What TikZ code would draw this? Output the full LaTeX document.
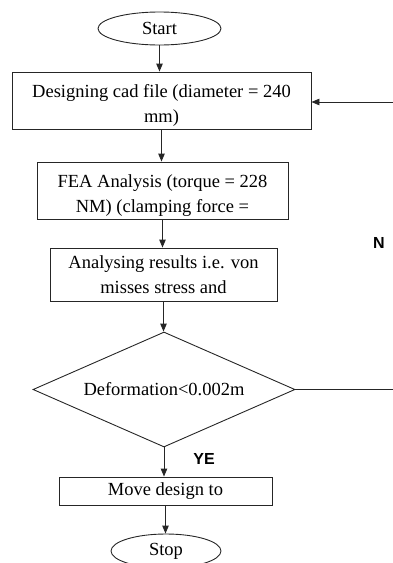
\documentclass[tikz,border=0pt]{standalone}
\usepackage{fontspec}
\setmainfont{Liberation Serif}
\newfontfamily\labfont{Liberation Sans}
\usetikzlibrary{shapes.geometric,arrows.meta}
\begin{document}
\begin{tikzpicture}[x=1pt,y=-1pt,
  line width=0.9pt,
  txt/.style={font=\fontsize{18.5}{25}\selectfont,align=center,text=black},
  box/.style={txt,draw=black!85,rectangle,inner sep=0pt},
  term/.style={txt,draw=black!85,ellipse,inner sep=0pt},
  decide/.style={txt,draw=black!85,diamond,inner sep=0pt,aspect=2},
  lab/.style={font=\labfont\bfseries\fontsize{16}{18}\selectfont,text=black},
  conn/.style={draw=black!85},
  arr/.style={conn,-{Triangle[length=8pt,width=6.5pt]}}
]
\useasboundingbox (0,0) rectangle (393,563);
\node[term,minimum width=123pt,minimum height=33pt] (start) at (159.5,28.5) {Start};
\node[box,minimum width=299pt,minimum height=57pt] (b1) at (161.5,100.5) {\rule{0pt}{23pt}Designing cad file (diameter = 240\\mm)};
\node[box,minimum width=251pt,minimum height=57pt] (b2) at (162.5,190.5) {\rule{0pt}{22pt}FEA Analysis (torque = 228\\NM) (clamping force =};
\node[box,minimum width=227pt,minimum height=53pt] (b3) at (163.5,274.5) {Analysing results i.e. von\\misses stress and};
\node[decide,minimum width=262pt,minimum height=115pt] (dia) at (164,389.5) {Deformation<0.002m};
\node[box,minimum width=213pt,minimum height=28pt] (b4) at (165.5,491) {Move design to};
\node[term,minimum width=110pt,minimum height=34pt] (stop) at (166,551) {Stop};
\node[lab] (n) at (379,243) {N};
\node[lab] (ye) at (204,459) {YE};
\coordinate (r1) at (400,389.5);
\coordinate (r2) at (400,102);
\draw[arr] (start.south) -- (start.south |- b1.north);
\draw[arr] (b1.south) -- (b1.south |- b2.north);
\draw[arr] (b2.south) -- (b2.south |- b3.north);
\draw[arr] (b3.south) -- (b3.south |- dia.north);
\draw[arr] (dia.south) -- (dia.south |- b4.north);
\draw[arr] (b4.south) -- (b4.south |- stop.north);
\draw[arr] (dia.east) -- (r1) -- (r2) -- (b1.east |- r2);
\end{tikzpicture}
\end{document}
